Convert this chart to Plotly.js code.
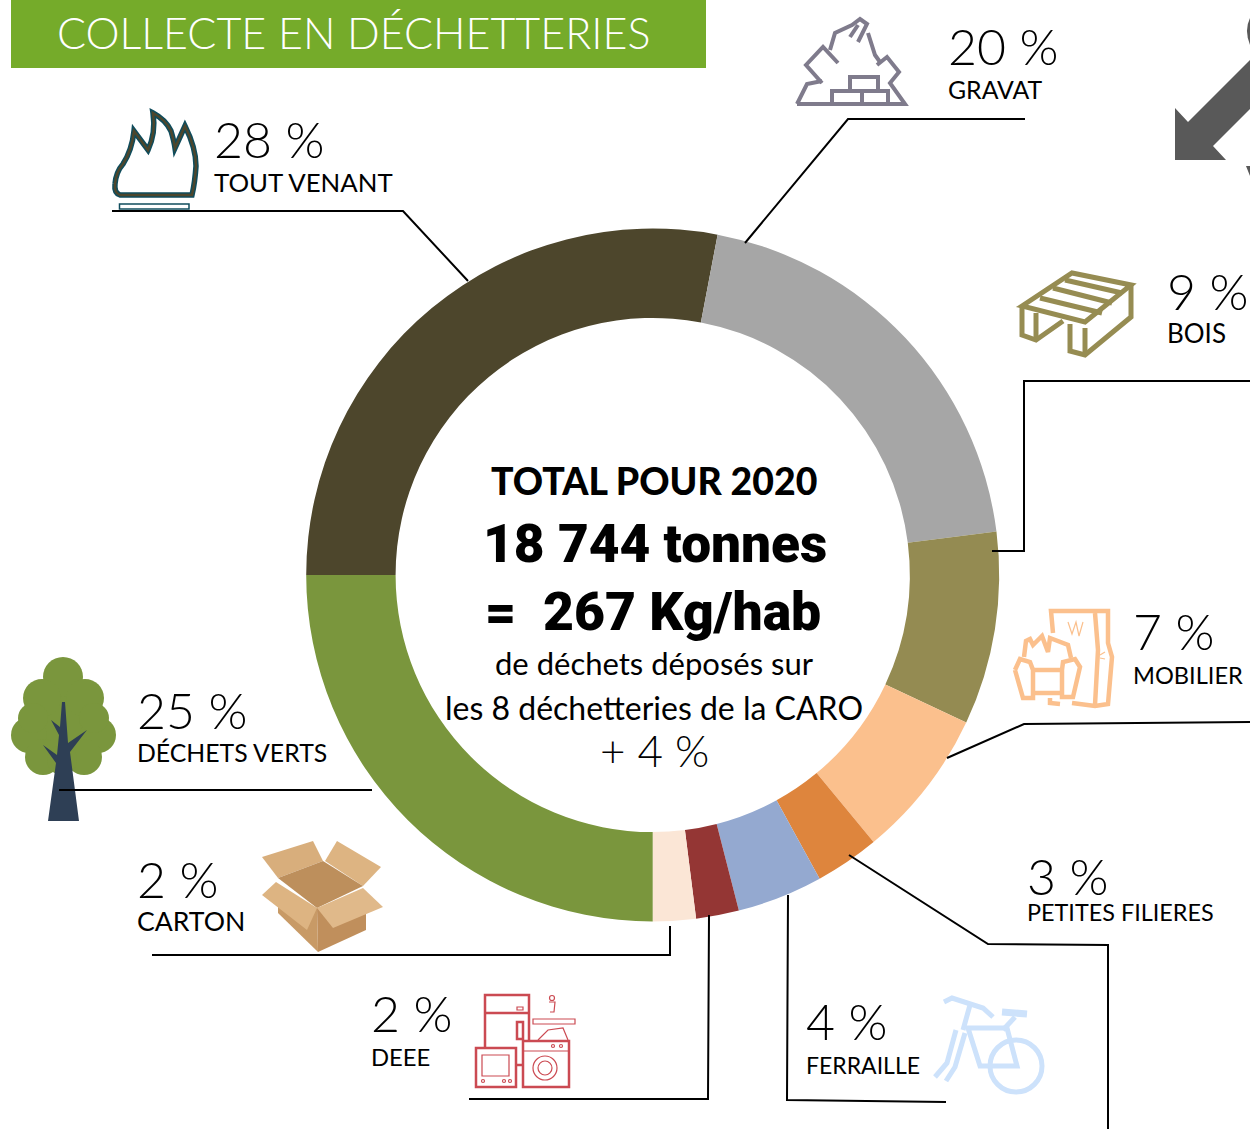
<!DOCTYPE html>
<html><head><meta charset="utf-8">
<script src="https://cdn.plot.ly/plotly-3.0.1.min.js"></script>
<style>html,body{margin:0;padding:0;background:#fff;overflow:hidden}#c{width:1250px;height:1129px}</style>
</head><body><div id="c"></div>
<script>
const categories=["TOUT VENANT","GRAVAT","BOIS","MOBILIER","PETITES FILIERES","FERRAILLE","DEEE","CARTON","DÉCHETS VERTS"];
const percentages=[28,20,9,7,3,4,2,2,25];
const sliceColors=["#4D462C","#A6A6A6","#948B52","#FBC08D","#DE853D","#94A9D0","#943634","#FBE6D6","#7A963D"];
const titleText="COLLECTE EN DÉCHETTERIES";
const centerHeading="TOTAL POUR 2020";
const centerTonnes="18 744 tonnes";
const centerPerHab="=  267 Kg/hab";
const centerLine1="de déchets déposés sur";
const centerLine2="les 8 déchetteries de la CARO";
const centerGrowth="+ 4 %";

const W=1250,H=1129,cx=652.7,cy=575,R=346.5;
const FONT="Lato, 'Open Sans', sans-serif";
const labelPos=[[214,158,196],[948,65,103],[1167,310,348],[1133,650,688],[1027,895,925],[806,1040,1078],[371,1032,1070],[137,898,936],[137,729,766]];
const labelSize=[25.8,24.8,26,23.6,23.4,23,23.8,26.6,24.8];

const shapes=[];
const path=(pts,o)=>{let d=pts.map((p,i)=>(i?'L':'M')+p[0]+' '+p[1]).join(' ')+(o.close?' Z':'');
 shapes.push({type:'path',xref:'x',yref:'y',path:d,layer:'above',fillcolor:o.fill||'rgba(0,0,0,0)',
 line:{color:o.color||'rgba(0,0,0,0)',width:o.width===undefined?0:o.width}});};
const raw=(d,o)=>shapes.push({type:'path',xref:'x',yref:'y',path:d,layer:'above',fillcolor:o.fill||'rgba(0,0,0,0)',line:{color:o.color||'rgba(0,0,0,0)',width:o.width||0}});
const circ=(x,y,r,o)=>shapes.push({type:'circle',xref:'x',yref:'y',x0:x-r,x1:x+r,y0:y-r,y1:y+r,layer:'above',fillcolor:o.fill||'rgba(0,0,0,0)',line:{color:o.color||'rgba(0,0,0,0)',width:o.width||0}});
const rect=(a,b,c,d,o)=>path([[a,b],[c,b],[c,d],[a,d]],{...o,close:true});

// header band
rect(11,0,706,68,{fill:'#75AB2A'});

// icons
// flame
const flame="M153 113 Q166 120 171 131 Q174 141 175 148 L185 126 Q196 148 196 166 Q195 182 192 195 L120 195 Q114 193 115 184 Q116 172 123 164 Q132 150 134 131 L148 150 Q156 133 153 113 Z";
raw(flame,{color:'#0F4C5C',width:5.5});
raw(flame,{color:'#4D462C',width:2.5});
rect(119.5,204,189,209,{color:'#0F4C5C',width:1.5});
// rubble
const gv={color:'#7F7B8C',width:4};
path([[797,104],[905,104],[890,83],[899,72],[887,57],[877,65]],gv);
path([[797,104],[807,84],[822,81]],gv);
path([[822,83],[806,65],[823,47],[838,63]],gv);
path([[830,50],[835,33],[852,25],[860,19],[867,24],[858,42]],gv);
path([[850,37],[858,25]],gv);
path([[868,33],[875,55],[880,62]],gv);
rect(832,91,862,104,gv);rect(862,91,888,104,gv);rect(850,77,878,91,gv);
// pallet
const pl={color:'#968C52',width:5};
path([[1022,306],[1072,273],[1131,285],[1085,322]],{...pl,close:true});
path([[1040,298],[1102,313]],pl);path([[1053,288],[1112,303]],pl);path([[1065,280],[1122,293]],pl);
path([[1022,306],[1022,335],[1036,340],[1063,321]],pl);
path([[1036,313],[1036,340]],pl);
path([[1070,324],[1070,351],[1085,355],[1131,317],[1131,285]],pl);
path([[1085,328],[1085,355]],pl);
// furniture
const mb={color:'#FBC08D',width:4.5};
path([[1053,633],[1051,611],[1108,611],[1108,643],[1112,657],[1108,704],[1095,706],[1072,703]],mb);
path([[1095,613],[1098,650],[1095,705]],mb);
path([[1024,657],[1026,641],[1030,639],[1033,645],[1042,636],[1048,652],[1050,638],[1068,645],[1071,658]],mb);
path([[1015,670],[1020,659],[1030,662],[1033,670],[1033,698],[1023,698],[1015,670]],mb);
path([[1062,670],[1063,662],[1075,659],[1080,667],[1073,697],[1062,697],[1062,670]],mb);
path([[1033,670],[1062,670]],mb);path([[1033,693],[1062,693]],mb);
path([[1050,698],[1050,703],[1060,704]],mb);
path([[1068,622],[1072,634],[1076,622],[1079,636],[1083,622]],{color:'#FBC08D',width:1.2});
path([[1100,655],[1105,652]],{color:'#FBC08D',width:1.2});path([[1100,658],[1105,659]],{color:'#FBC08D',width:1.2});
// tree
const tr={fill:'#7A963D'};
circ(63,723,36,tr);circ(63,677,20,tr);circ(42,698,19,tr);circ(85,698,19,tr);circ(29,735,18,tr);circ(98,735,18,tr);circ(43,757,18,tr);circ(84,757,18,tr);
circ(33,718,15,tr);circ(94,718,15,tr);circ(62,760,15,tr);
path([[62,702],[65,702],[68,743],[87,730],[70,752],[79,821],[48,821],[56,763],[43,745],[57,755],[59,735],[51,720],[60,727]],{fill:'#2E3F55',close:true});
// carton
path([[262,857],[313,841],[323,861],[278,878]],{fill:'#D8AE7C',close:true});
path([[337,841],[381,867],[363,886],[325,861]],{fill:'#DDB482',close:true});
path([[278,878],[323,861],[363,886],[317,908]],{fill:'#BD8F5C',close:true});
path([[278,900],[317,908],[318,952],[278,913]],{fill:'#C89A66',close:true});
path([[317,908],[366,895],[366,930],[318,952]],{fill:'#C08F5C',close:true});
path([[262,895],[276,882],[317,908],[307,930]],{fill:'#DDB482',close:true});
path([[317,908],[363,888],[383,907],[333,928]],{fill:'#E0B98A',close:true});
// appliances
const de={color:'#CB4A52',width:2.5};const de2={color:'#CB4A52',width:1.2};
path([[485,1048],[485,995],[529,995],[529,1042]],de);path([[485,1013],[529,1013]],de);
rect(517,1007,523,1010,de2);rect(517,1022,523,1039,de);
rect(476,1048,516,1087,de);rect(482,1055,509,1076,de2);
circ(483,1081,1.5,de2);circ(504,1081,1.5,de2);circ(510,1081,1.5,de2);
rect(523,1041,569,1087,de);path([[523,1051],[569,1051]],de2);
circ(545,1068,12,de2);circ(545,1068,7,de2);circ(553,1046,1.5,de2);circ(561,1046,1.5,de2);
path([[516,1065],[523,1065]],de);
path([[538,1040],[548,1030],[563,1028],[568,1040]],de2);
rect(533,1019,575,1024,de2);
path([[549,1002],[555,1002],[554,1012],[550,1012]],de2);circ(552,998,2.5,de2);
// bicycle
const bk={color:'#CDE2FB',width:5};
path([[944,1002],[952,998],[983,1008],[993,1017]],bk);
path([[970,1005],[963,1030]],bk);
path([[956,1030],[947,1063],[935,1077]],bk);
path([[965,1033],[955,1067],[946,1081]],bk);
path([[968,1028],[1007,1028],[1017,1066],[980,1066]],{...bk,close:true});
path([[1015,1017],[1003,1030]],bk);
path([[1002,1012],[1027,1014]],{color:'#CDE2FB',width:7});
circ(1016,1066,26,bk);
// grey arrow, cropped at the right edge
path([[1175,160],[1175,108],[1188,122],[1250,60],[1250,109],[1213,146],[1226,160]],{fill:'#595959',close:true});
raw("M1250 18 Q1244 30 1250 45 Z",{fill:'#595959'});
path([[1246,166],[1250,166],[1250,176]],{fill:'#595959',close:true});

// leader lines
const ld={color:'#000',width:2};
[[[112,211],[403,211],[468,281]],
 [[1025,119],[848,119],[745,243]],
 [[1250,381],[1024,381],[1024,551],[992,551]],
 [[1250,722],[1024,724],[947,758]],
 [[849,855],[988,944],[1108,945],[1108,1129]],
 [[788,895],[787,1100],[946,1102]],
 [[709,915],[708,1099],[469,1099]],
 [[670,926],[670,955],[152,955]],
 [[59,790],[372,790]]].forEach(l=>path(l,ld));

// text
const ann=(text,x,y,size,anchor,font,weight)=>({text,x,y,xref:'x',yref:'y',showarrow:false,xanchor:anchor,yanchor:'bottom',borderpad:0,borderwidth:0,
 font:{family:font||FONT,size,color:'#000',weight:weight||400}});
const annotations=[];
const a0=ann(titleText,57,58,43,'left',FONT,300);a0.font.color='#fff';annotations.push(a0);
categories.forEach((c,i)=>{const p=labelPos[i];
 annotations.push(ann(percentages[i]+" %",p[0],p[1]+10.5,50,'left',FONT,300));
 annotations.push(ann(c,p[0],p[2]+1,labelSize[i],'left'));});
annotations.push(ann(centerHeading,654,503,37.4,'center',"Lato",900));
annotations.push(ann(centerTonnes,654.5,575,53.2,'center',"Roboto",900));
annotations.push(ann(centerPerHab,653,643,53.5,'center',"Roboto",900));
annotations.push(ann(centerLine1,654,682,31,'center',FONT,400));
annotations.push(ann(centerLine2,653.5,727,32,'center',FONT,400));
annotations.push(ann(centerGrowth,654,776,44,'center',FONT,300));

const data=[
 {type:'scatter',x:[],y:[],xaxis:'x',yaxis:'y',showlegend:false,hoverinfo:'skip'},
 {type:'pie',labels:categories,values:percentages,marker:{colors:sliceColors,line:{width:0}},
  sort:false,direction:'clockwise',rotation:270,hole:0.742,textinfo:'none',hoverinfo:'label+percent',showlegend:false,
  domain:{x:[(cx-R)/W,(cx+R)/W],y:[(H-cy-R)/H,(H-cy+R)/H]}}
];
const layout={width:W,height:H,margin:{l:0,r:0,t:0,b:0,pad:0},paper_bgcolor:'#fff',plot_bgcolor:'rgba(0,0,0,0)',showlegend:false,
 xaxis:{range:[0,W],domain:[0,1],visible:false,fixedrange:true},
 yaxis:{range:[H,0],domain:[0,1],visible:false,fixedrange:true},
 shapes,annotations};
Plotly.newPlot('c',data,layout,{displayModeBar:false,staticPlot:true});
</script></body></html>
